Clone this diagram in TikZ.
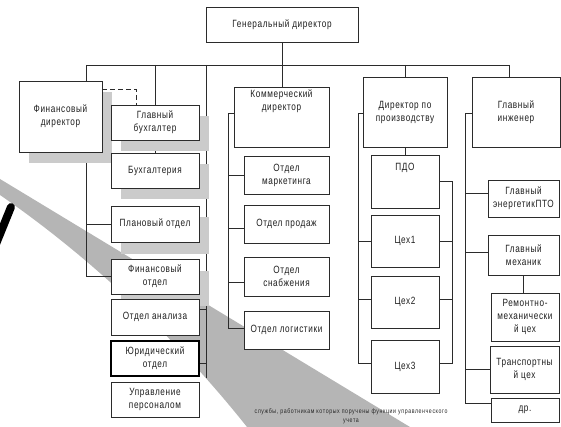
\documentclass[tikz,border=0pt]{standalone}
\usepackage{fontspec}
\setmainfont{Liberation Sans}[FakeStretch=0.78,LetterSpace=6]
\newfontfamily\notefont{Liberation Sans}[FakeStretch=0.78,LetterSpace=9]
\usetikzlibrary{shadows}
\pgfdeclarelayer{bgA}\pgfdeclarelayer{bgB}\pgfsetlayers{bgA,bgB,main}
\definecolor{ln}{HTML}{2B2B2B}
\definecolor{shd}{HTML}{CBCBCB}
\definecolor{beam}{HTML}{B5B5B5}
\newcommand\obox[6][]{\node[box,#1,minimum width={(#4-#2)*1pt},minimum height={(#5-#3)*1pt}] (#6) at ({(#2+#4)/2},{(#3+#5)/2})}
\tikzset{
  box/.style={draw=ln, line width=0.8pt, fill=white, inner sep=0pt, outer sep=0pt,
    align=center, font=\fontsize{10.5}{13}\selectfont, text=black!88},
  sbox/.style={box, drop shadow={shadow xshift=9.5pt, shadow yshift=-11.5pt, fill=shd, opacity=1}},
  txt/.style={inner sep=0pt, align=center, font=\fontsize{10.5}{13}\selectfont, text=black!88},
  con/.style={draw=ln, line width=0.8pt},
}
\begin{document}
\begin{tikzpicture}[x=1pt,y=-1pt]
\useasboundingbox (0,0) rectangle (561,427);
% boxes
\obox{206}{7}{358}{42}{gd} {Генеральный директор};
\obox[sbox]{19}{81}{102}{152}{fd} {Финансовый\\директор};
\obox[sbox]{111}{105}{199}{140}{gb} {Главный\\бухгалтер};
\obox[sbox]{111}{153}{199}{188}{bh} {Бухгалтерия};
\obox[sbox]{111}{206}{199}{242}{po} {Плановый отдел};
\obox[sbox]{111}{259}{199}{294}{fo} {Финансовый\\отдел};
\obox{111}{299}{199}{335}{oa} {Отдел анализа};
\obox[line width=1.1pt,draw=black]{111}{341}{199}{376}{yu} {Юридический\\отдел};
\obox{111}{382}{199}{417}{up} {Управление\\персоналом};
\obox{234}{87}{329}{147}{kd} {};
\node[txt,anchor=north] (kdt) at ([yshift=-2.5pt]kd.north) {Коммерческий\\директор};
\obox{244}{156}{329}{194}{om} {Отдел\\маркетинга};
\obox{244}{205}{329}{243}{op} {Отдел продаж};
\obox{244}{257}{329}{296}{os} {Отдел\\снабжения};
\obox{244}{311}{329}{349}{ol} {Отдел логистики};
\obox{363}{77}{447}{147}{dp} {Директор по\\производству};
\obox{371}{155}{439}{208}{pdo} {};
\node[txt,anchor=north] (pdot) at ([yshift=-8pt]pdo.north) {ПДО};
\obox{371}{215}{439}{267}{c1} {Цех1};
\obox{371}{276}{439}{328}{c2} {Цех2};
\obox{371}{340}{439}{393}{c3} {Цех3};
\obox{472}{77}{560}{147}{gi} {Главный\\инженер};
\obox{488}{180}{559}{217}{ge} {Главный\\энергетикПТО};
\obox{488}{235}{559}{275}{gm} {Главный\\механик};
\obox{491}{293}{559}{341}{rm} {Ремонтно-\\механически\\й цех};
\obox{490}{346}{559}{393}{tc} {Транспортны\\й цех};
\obox{491}{398}{559}{422}{dr} {др.};
\node[inner sep=0pt, align=center, font=\notefont\fontsize{6.7}{9}\selectfont, text=black!85] (note) at (351,416.5)
  {службы, работникам которых поручены функции управленческого\\учета};
% background beam
\begin{pgfonlayer}{bgA}
\fill[beam] (0,179) -- (410,427) -- (247,427) .. controls (170,330) and (80,250) .. (0,195) -- cycle;
\draw[line width=8pt, line cap=round] (11,207) -- (-4,244);
\end{pgfonlayer}
% connectors
\begin{pgfonlayer}{bgB}
\coordinate (bL) at (86,65);
\coordinate (bR) at (509,65);
\coordinate (b3) at (206,65);
\coordinate (b3e) at (206,378);
\draw[con] (bL) -- (bR);
\draw[con] (gd.south) -- (gd.south |- kd.north);
\draw[con] (bL) |- (fo.west);
\draw[con] (bL |- po.west) -- (po.west);
\draw[con] (gb.north |- bL) -- (gb.north);
\draw[con] (gb.south) -- (bh.north);
\draw[con] (b3) -- (b3e);
\draw[con] ([yshift=-10pt]oa.north east) coordinate (oat) -- (oat -| b3);
\draw[con] ([yshift=-22pt]yu.north east) coordinate (yut) -- (yut -| b3);
\draw[con, dash pattern=on 5pt off 3pt] ([yshift=-8pt]fd.north east) -| ([xshift=-19pt]gb.north);
% commercial
\coordinate (kL) at (228,113);
\draw[con] (kL -| kd.west) -- (kL) |- ([yshift=2pt]ol.west);
\draw[con] (om.west) -- (om.west -| kL);
\draw[con] ([yshift=-4pt]op.west) coordinate (opt) -- (opt -| kL);
\draw[con] ([yshift=-6pt]os.west) coordinate (ost) -- (ost -| kL);
% production
\draw[con] (dp.north |- bR) -- (dp.north);
\draw[con] (dp.south) -- (pdo.north);
\coordinate (pL) at (358,113);
\coordinate (pR) at (452,181.5);
\draw[con] (pL -| dp.west) -- (pL) |- ([yshift=3pt]c3.west);
\draw[con] (c1.west) -- (c1.west -| pL);
\draw[con] ([yshift=3pt]c2.west) coordinate (c2l) -- (c2l -| pL);
\draw[con] (pdo.east) -- (pR) |- ([yshift=3pt]c3.east);
\draw[con] (c1.east) -- (c1.east -| pR);
\draw[con] ([yshift=3pt]c2.east) coordinate (c2r) -- (c2r -| pR);
% engineer
\draw[con] (bR) -- (bR |- gi.north);
\coordinate (eL) at (465,113);
\draw[con] (eL -| gi.west) -- (eL) |- ([yshift=-5pt]dr.north west);
\draw[con] ([yshift=5pt]ge.west) coordinate (get) -- (get -| eL);
\draw[con] ([yshift=3pt]gm.west) coordinate (gmt) -- (gmt -| eL);
\draw[con] (tc.west) -- (tc.west -| eL);
\draw[con] (gm.south) -- (gm.south |- rm.north);
\end{pgfonlayer}
\end{tikzpicture}
\end{document}
